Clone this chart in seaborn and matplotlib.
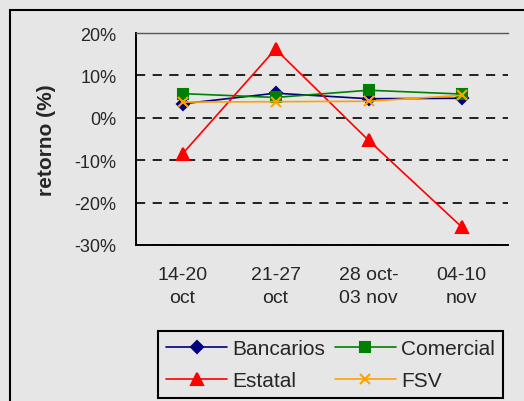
import pandas as pd
import seaborn as sns
import matplotlib.pyplot as plt
from matplotlib.patches import Rectangle
from matplotlib.ticker import FuncFormatter

# datos (retorno semanal, %)
semanas=['14-20\noct','21-27\noct','28 oct-\n03 nov','04-10\nnov']
bancarios=[3.3,5.8,4.5,4.6]
comercial=[5.7,4.8,6.5,5.6]
estatal=[-8.5,16.2,-5.3,-25.7]
fsv=[3.7,3.8,3.9,5.3]

series={'Bancarios':bancarios,'Comercial':comercial,'Estatal':estatal,'FSV':fsv}
colores={'Bancarios':'#000080','Comercial':'#008000','Estatal':'#ff0000','FSV':'#ffa200'}
marcadores={'Bancarios':'D','Comercial':'s','Estatal':'^','FSV':'x'}
tamanos={'Bancarios':6,'Comercial':7,'Estatal':8,'FSV':7}

sns.set_style('white')
plt.rcParams['font.family']=['Liberation Sans','DejaVu Sans']
fondo='#e6e6e6'

fig=plt.figure(figsize=(5.24,4.02),dpi=100,facecolor=fondo)
ax=fig.add_axes([136/524,1-246/402,372/524,212/402])
ax.set_facecolor(fondo)

pos=list(range(len(semanas)))
for nombre,valores in series.items():
    sns.lineplot(x=pos,y=valores,ax=ax,color=colores[nombre],marker=marcadores[nombre],
                 markersize=tamanos[nombre],markeredgecolor=colores[nombre],
                 markeredgewidth=1.5,linewidth=1.2,label=nombre)
handles,labels=ax.get_legend_handles_labels()
ax.get_legend().remove()

ax.set_ylim(-30,20)
ax.set_yticks([-30,-20,-10,0,10,20])
ax.yaxis.set_major_formatter(FuncFormatter(lambda v,p:'%d%%'%v))
ax.set_xlim(-0.5,len(semanas)-0.5)
ax.set_xticks([i-0.5 for i in range(len(semanas)+1)])
ax.set_xticklabels([])
ax.set_xticks(pos,minor=True)
ax.set_xticklabels(semanas,minor=True,fontsize=14,linespacing=1.5)
ax.tick_params(axis='x',which='major',direction='out',length=5,width=1.2,color='black')
ax.tick_params(axis='x',which='minor',length=0,pad=15)
ax.tick_params(axis='y',direction='out',length=5,width=1.2,color='black',labelsize=13,pad=9)
ax.grid(axis='y',color='black',linestyle=(0,(5.5,4.5)),linewidth=1.2)
ax.set_axisbelow(True)
for lado in ['left','bottom']:
    ax.spines[lado].set_color('black')
    ax.spines[lado].set_linewidth(1.4)
ax.spines['top'].set_color('#555555')
ax.spines['top'].set_linewidth(1.0)
ax.spines['right'].set_visible(False)
ax.set_xlabel('')
ax.set_ylabel('retorno (%)',fontsize=15,fontweight='bold',labelpad=13)

orden=[0,2,1,3]
leg=fig.legend([handles[i] for i in orden],[labels[i] for i in orden],ncol=2,
               loc='upper left',bbox_to_anchor=(158/524,1-332/402),fontsize=15,
               frameon=True,fancybox=False,edgecolor='black',facecolor=fondo,
               handlelength=2.9,handletextpad=0.25,columnspacing=0.5,
               borderpad=0.4,labelspacing=0.6,borderaxespad=0)
leg.get_frame().set_linewidth(1.5)
leg.get_frame().set_alpha(1)

fig.add_artist(Rectangle((10/524,-0.1),1.2,1.1-11/402,transform=fig.transFigure,
                         fill=False,edgecolor='black',linewidth=1.5))

fig.savefig('out.png',dpi=100,facecolor=fondo)
